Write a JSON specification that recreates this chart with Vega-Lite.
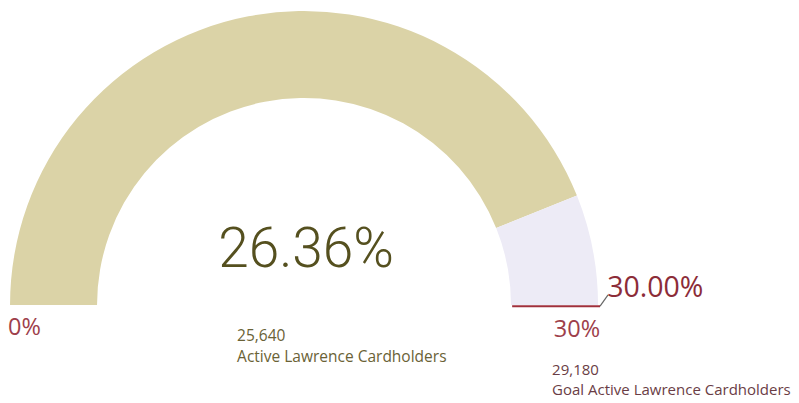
{
  "$schema": "https://vega.github.io/schema/vega-lite/v6.json",
  "width": 799,
  "height": 403,
  "padding": 0,
  "autosize": "none",
  "background": "white",
  "config": {"view": {"stroke": null}, "axis": {"disable": true}},
  "layer": [
    {
      "data": {"values": [
        {"part": "Active Lawrence Cardholders", "pct": 26.36, "order": 1},
        {"part": "Remaining to Goal", "pct": 3.64, "order": 2}
      ]},
      "mark": {"type": "arc", "innerRadius": 207, "outerRadius": 294},
      "encoding": {
        "x": {"datum": 0, "type": "quantitative", "scale": {"domain": [-1.027, 1.672], "nice": false, "zero": false}, "axis": null},
        "y": {"datum": 0, "type": "quantitative", "scale": {"domain": [-0.331, 1.030], "nice": false, "zero": false}, "axis": null},
        "theta": {"field": "pct", "type": "quantitative", "stack": true, "scale": {"range": [-1.5707963, 1.5707963]}},
        "order": {"field": "order", "type": "quantitative"},
        "color": {"field": "part", "type": "nominal", "scale": {"domain": ["Active Lawrence Cardholders", "Remaining to Goal"], "range": ["#dbd3a7", "#edebf6"]}, "legend": null}
      }
    },
    {
      "data": {"values": [{"goal": 30}]},
      "mark": {"type": "rule", "color": "#a0303c", "strokeWidth": 2},
      "encoding": {
        "x": {"datum": 0.703, "type": "quantitative"},
        "x2": {"datum": 1.0},
        "y": {"datum": -0.004, "type": "quantitative"}
      }
    },
    {
      "data": {"values": [{"goal": 30}]},
      "mark": {"type": "rule", "color": "#666666", "strokeWidth": 1.2},
      "encoding": {
        "x": {"datum": 1.0, "type": "quantitative"},
        "x2": {"datum": 1.027},
        "y": {"datum": -0.004, "type": "quantitative"},
        "y2": {"datum": 0.034}
      }
    },
    {
      "data": {"values": [{"label": "26.36%"}]},
      "mark": {"type": "text", "font": "Roboto", "fontWeight": 300, "fontSize": 55, "align": "center", "baseline": "alphabetic", "color": "#55501f"},
      "encoding": {"text": {"field": "label"}, "x": {"datum": 0.007, "type": "quantitative"}, "y": {"datum": 0.128, "type": "quantitative"}}
    },
    {
      "data": {"values": [{"label": "30.00%"}]},
      "mark": {"type": "text", "font": "Open Sans", "fontSize": 28.5, "align": "left", "baseline": "alphabetic", "color": "#8c2c38"},
      "encoding": {"text": {"field": "label"}, "x": {"datum": 1.024, "type": "quantitative"}, "y": {"datum": 0.027, "type": "quantitative"}}
    },
    {
      "data": {"values": [{"label": "0%"}]},
      "mark": {"type": "text", "font": "Open Sans", "fontSize": 23.5, "align": "left", "baseline": "alphabetic", "color": "#9e3f4b"},
      "encoding": {"text": {"field": "label"}, "x": {"datum": -1.0, "type": "quantitative"}, "y": {"datum": -0.101, "type": "quantitative"}}
    },
    {
      "data": {"values": [{"label": "30%"}]},
      "mark": {"type": "text", "font": "Open Sans", "fontSize": 23.5, "align": "right", "baseline": "alphabetic", "color": "#9e3f4b"},
      "encoding": {"text": {"field": "label"}, "x": {"datum": 1.0, "type": "quantitative"}, "y": {"datum": -0.108, "type": "quantitative"}}
    },
    {
      "data": {"values": [{"label": "25,640"}]},
      "mark": {"type": "text", "font": "Open Sans", "fontSize": 15.5, "align": "left", "baseline": "alphabetic", "color": "#6a6236"},
      "encoding": {"text": {"field": "label"}, "x": {"datum": -0.226, "type": "quantitative"}, "y": {"datum": -0.12, "type": "quantitative"}}
    },
    {
      "data": {"values": [{"label": "Active Lawrence Cardholders"}]},
      "mark": {"type": "text", "font": "Open Sans", "fontSize": 15.5, "align": "left", "baseline": "alphabetic", "color": "#6a6236"},
      "encoding": {"text": {"field": "label"}, "x": {"datum": -0.226, "type": "quantitative"}, "y": {"datum": -0.192, "type": "quantitative"}}
    },
    {
      "data": {"values": [{"label": "29,180"}]},
      "mark": {"type": "text", "font": "Open Sans", "fontSize": 15, "align": "left", "baseline": "alphabetic", "color": "#6a3d45"},
      "encoding": {"text": {"field": "label"}, "x": {"datum": 0.838, "type": "quantitative"}, "y": {"datum": -0.238, "type": "quantitative"}}
    },
    {
      "data": {"values": [{"label": "Goal Active Lawrence Cardholders"}]},
      "mark": {"type": "text", "font": "Open Sans", "fontSize": 15, "align": "left", "baseline": "alphabetic", "color": "#6a3d45"},
      "encoding": {"text": {"field": "label"}, "x": {"datum": 0.838, "type": "quantitative"}, "y": {"datum": -0.304, "type": "quantitative"}}
    }
  ]
}
